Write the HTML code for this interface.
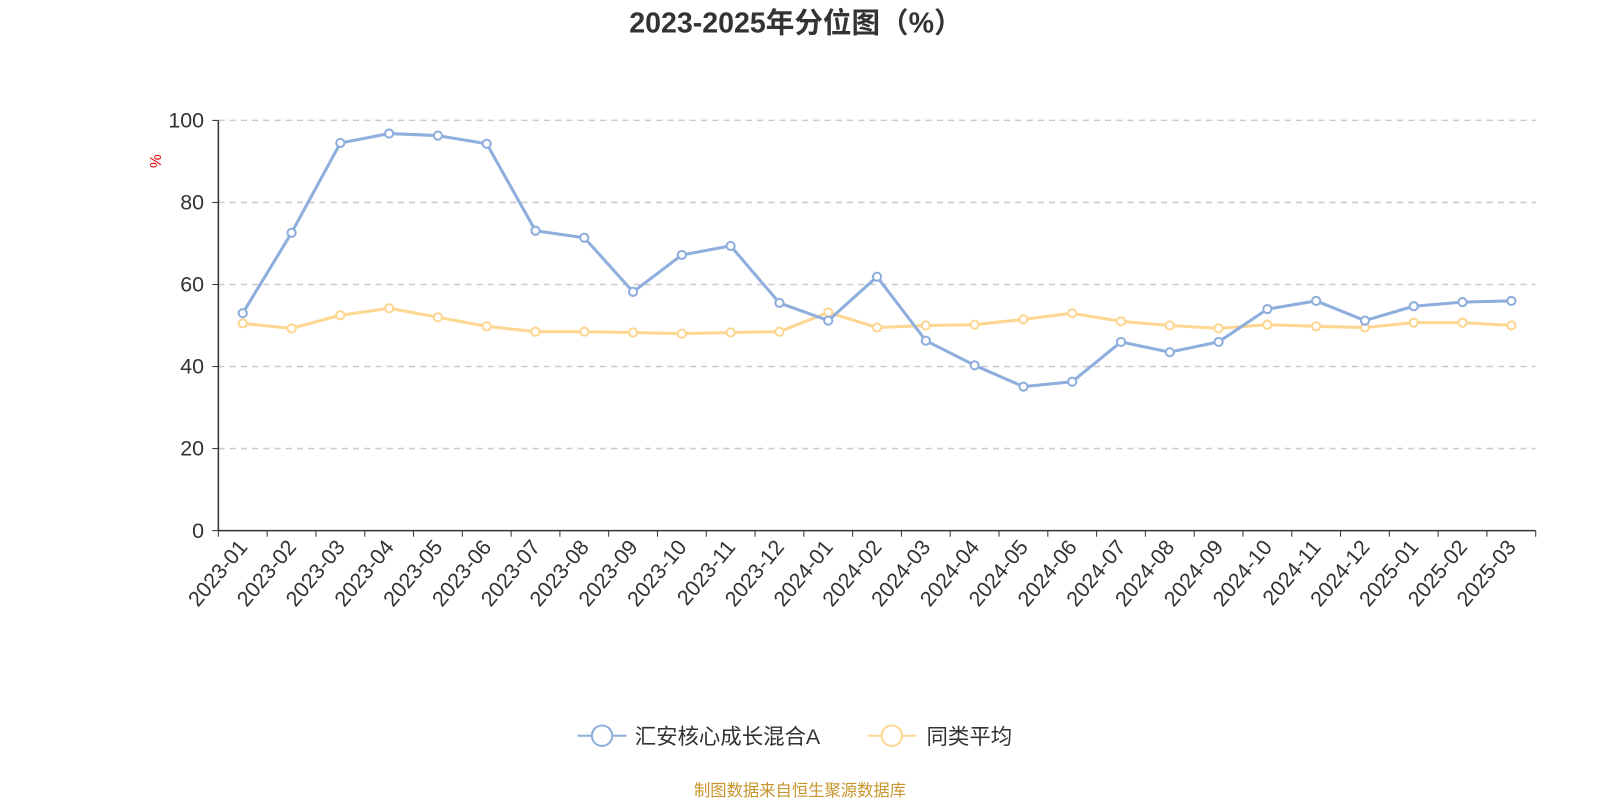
<!DOCTYPE html>
<html><head><meta charset="utf-8"><style>
body{margin:0;background:#fff;width:1600px;height:800px;overflow:hidden;font-family:"Liberation Sans","Noto Sans CJK SC",sans-serif}
</style></head><body>
<svg id="c" width="1600" height="800" viewBox="0 0 1568 784" xmlns="http://www.w3.org/2000/svg" style="font-family:'Liberation Sans','Noto Sans CJK SC',sans-serif">
<text x="780" y="32" text-anchor="middle" font-size="28" font-weight="bold" fill="#333">2023-2025年分位图（%）</text>
<text x="158" y="158" font-size="15" fill="#e00" transform="rotate(-90 158 158)" text-anchor="middle">%</text>
<g id="grid"></g><g id="axes"></g><g id="lines"></g>
<g>
<g>
<line x1="566" y1="721" x2="614" y2="721" stroke="#8eaedd" stroke-width="2"/><circle cx="590" cy="721" r="10" fill="#fff" stroke="#8eaedd" stroke-width="2"/>
<text x="622" y="729" font-size="21" fill="#333">汇安核心成长混合A</text></g>
<g>
<line x1="850" y1="721" x2="898" y2="721" stroke="#fdd792" stroke-width="2"/><circle cx="874" cy="721" r="10" fill="#fff" stroke="#fdd792" stroke-width="2"/>
<text x="908" y="729" font-size="21" fill="#333">同类平均</text></g>
</g>
<text x="784" y="780" text-anchor="middle" font-size="16" fill="#c8952c">制图数据来自恒生聚源数据库</text>
</svg>
<script>
const categories=["2023-01","2023-02","2023-03","2023-04","2023-05","2023-06","2023-07","2023-08","2023-09","2023-10","2023-11","2023-12","2024-01","2024-02","2024-03","2024-04","2024-05","2024-06","2024-07","2024-08","2024-09","2024-10","2024-11","2024-12","2025-01","2025-02","2025-03"];
const fundValues=[53.0,72.6,94.5,96.8,96.3,94.3,73.1,71.4,58.2,67.2,69.4,55.5,51.2,61.9,46.3,40.3,35.1,36.3,46.0,43.5,46.0,54.0,56.0,51.2,54.7,55.7,56.0];
const avgValues=[50.5,49.3,52.5,54.2,52.0,49.8,48.5,48.5,48.3,48.0,48.3,48.5,53.2,49.5,50.0,50.2,51.5,53.0,51.0,50.0,49.3,50.2,49.8,49.5,50.7,50.7,50.0];
const yTicks=[0,20,40,60,80,100];
const NS="http://www.w3.org/2000/svg";
const x0=214,x1=1505,yB=520,yT=118;
const bw=(x1-x0)/categories.length;
const xs=i=>x0+bw*(i+0.5);
const ys=v=>yB-(v/100)*(yB-yT);
function mk(t,a,p){const e=document.createElementNS(NS,t);for(const k in a)e.setAttribute(k,a[k]);p.appendChild(e);return e;}
const grid=document.getElementById('grid'),axes=document.getElementById('axes'),lines=document.getElementById('lines');
yTicks.forEach(v=>{
 if(v>0){const g=mk('line',{x1:x0,x2:x1,y1:ys(v),y2:ys(v),stroke:'#ccc','stroke-dasharray':'6,5','stroke-width':1.5},grid);
 
 }
 const t=mk('text',{x:x0-14,y:ys(v)+7,'text-anchor':'end','font-size':21,fill:'#333'},axes);t.textContent=v;
 
 
 mk('line',{x1:x0-6,x2:x0,y1:ys(v),y2:ys(v),stroke:'#333'},axes);
});
const ya=mk('line',{x1:x0,x2:x0,y1:yT,y2:yB,stroke:'#333','stroke-width':1.5},axes);


const xa=mk('line',{x1:x0,x2:x1,y1:yB,y2:yB,stroke:'#333','stroke-width':1.5},axes);


for(let i=0;i<=categories.length;i++){mk('line',{x1:x0+bw*i,x2:x0+bw*i,y1:yB,y2:yB+6,stroke:'#333'},axes);}
categories.forEach((c,i)=>{
 const x=xs(i),y=yB+12;
 const t=mk('text',{x:x,y:y,'text-anchor':'end','font-size':21,fill:'#333',transform:`rotate(-50 ${x} ${y})`,dy:'0.35em'},axes);
 t.textContent=c;
 
 
});
function series(vals,color,name){
 const p=mk('polyline',{points:vals.map((v,i)=>xs(i)+','+ys(v)).join(' '),fill:'none',stroke:color,'stroke-width':3,'stroke-linejoin':'round'},lines);
 
 
 vals.forEach((v,i)=>{const c=mk('circle',{cx:xs(i),cy:ys(v),r:4,fill:'#fff',stroke:color,'stroke-width':2},lines);
 
 });
}
series(avgValues,'#fdd792','average');
series(fundValues,'#8eaedd','fund');
</script>
</body></html>
